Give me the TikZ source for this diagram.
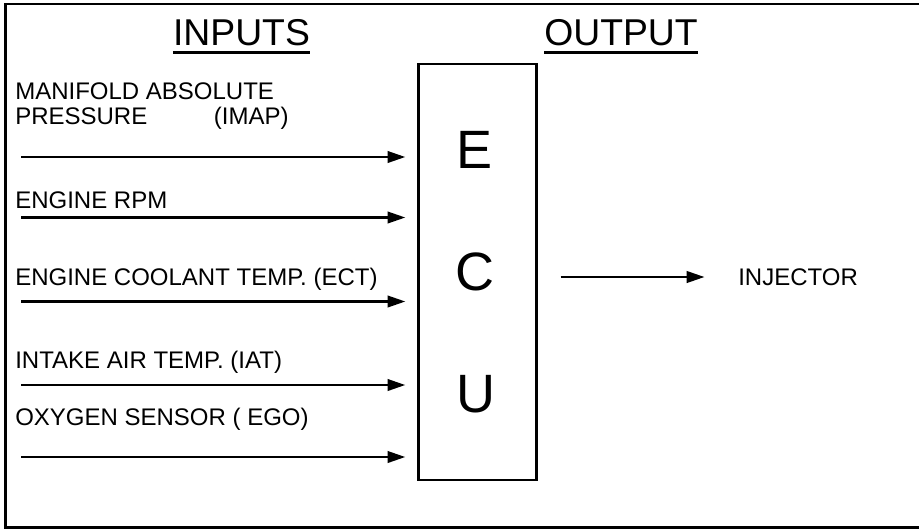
\documentclass[tikz,border=0pt]{standalone}
\usepackage{fontspec}
\setmainfont{Liberation Sans}
\usepackage{tikz}
\usetikzlibrary{arrows.meta, positioning, calc}

\begin{document}
\begin{tikzpicture}[
  x=0.75pt, y=-0.75pt,
  frame/.style={line width=1.9pt},
  ecubox/.style={rectangle, draw=black, line width=2.2pt, minimum width=88.5pt, minimum height=312pt, inner sep=0pt, outer sep=0pt},
  letter/.style={font=\fontsize{40.5}{44}\selectfont, inner sep=0pt},
  title/.style={font=\fontsize{28}{32}\selectfont, inner sep=0pt},
  lbl/.style={font=\fontsize{18}{18.75}\selectfont, inner sep=0pt, anchor=base west, align=left},
  arr/.style={-{Triangle[length=13.5pt, width=8.5pt]}, line width=2.2pt},
  uline/.style={line width=1.9pt},
]
  \useasboundingbox (0,0) rectangle (919,529);

  % Frame (open on the right)
  \draw[frame] (925,4) -- (5.5,4) -- (5.5,527.5) -- (925,527.5);

  % Titles
  \node[title, anchor=base] (inp) at (241.5,45.5) {INPUTS};
  \node[title, anchor=base] (outp) at (621,45.5) {OUTPUT};
  \draw[uline] ([yshift=-5.25pt]inp.base west) -- ([yshift=-5.25pt]inp.base east);
  \draw[uline] ([yshift=-5.25pt]outp.base west) -- ([yshift=-5.25pt]outp.base east);

  % ECU
  \node[ecubox] (ecu) at (477.5,272) {};
  \node[letter] (le) at (474,149.5) {E};
  \node[letter] (lc) at (475,272) {C};
  \node[letter] (lu) at (476,394.5) {U};

  % Inputs
  \node[lbl] (map) at (15,124.5) {MANIFOLD ABSOLUTE\\PRESSURE\hspace{50pt}(IMAP)};
  \node[lbl] (rpm) at (15,208.5) {ENGINE RPM};
  \node[lbl] (ect) at (15,285.5) {ENGINE COOLANT TEMP. (ECT)};
  \node[lbl] (iat) at (15,368.5) {INTAKE AIR TEMP. (IAT)};
  \node[lbl] (ego) at (15,425.5) {OXYGEN SENSOR ( EGO)};

  \coordinate (s1) at (21,157);
  \coordinate (s2) at (21,217.5);
  \coordinate (s3) at (21,301.5);
  \coordinate (s4) at (21,385);
  \coordinate (s5) at (21,457);
  \draw[arr] (s1) -- ([xshift=-9.75pt]s1 -| ecu.west);
  \draw[arr] (s2) -- ([xshift=-9.75pt]s2 -| ecu.west);
  \draw[arr] (s3) -- ([xshift=-9.75pt]s3 -| ecu.west);
  \draw[arr] (s4) -- ([xshift=-9.75pt]s4 -| ecu.west);
  \draw[arr] (s5) -- ([xshift=-9.75pt]s5 -| ecu.west);

  % Output
  \node[lbl, anchor=west] (inj) at (738,277) {INJECTOR};
  \draw[arr] ([xshift=18pt]ecu.east |- inj.west) -- ([xshift=-25pt]inj.west);
\end{tikzpicture}
\end{document}
